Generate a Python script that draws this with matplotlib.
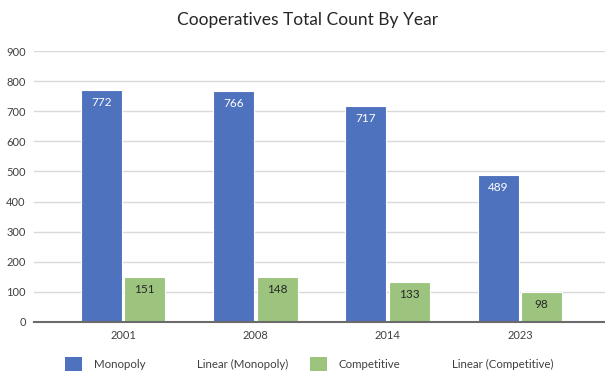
import numpy as np
import matplotlib.pyplot as plt
from matplotlib.patches import Patch
from matplotlib.lines import Line2D

plt.rcParams['font.family'] = ['Lato', 'DejaVu Sans']

years = ['2001', '2008', '2014', '2023']
monopoly = [772, 766, 717, 489]
competitive = [151, 148, 133, 98]

blue = '#4F72BE'
green = '#9CC47E'

fig = plt.figure(figsize=(6.05, 3.71), dpi=100)
ax = fig.add_axes([34 / 605, 1 - 322 / 371, 1 - 34 / 605, (322 - 51) / 371])

x = np.arange(len(years))
w = 0.31
b1 = ax.bar(x - 0.165, monopoly, w, color=blue, edgecolor='white', linewidth=0.8, zorder=3)
b2 = ax.bar(x + 0.165, competitive, w, color=green, edgecolor='white', linewidth=0.8, zorder=3)

for rect, v in zip(b1, monopoly):
    ax.annotate(str(v), (rect.get_x() + rect.get_width() / 2, v), xytext=(0, -9),
                textcoords='offset points', ha='center', va='center',
                color='white', fontsize=8.5)
for rect, v in zip(b2, competitive):
    ax.annotate(str(v), (rect.get_x() + rect.get_width() / 2, v), xytext=(0, -9),
                textcoords='offset points', ha='center', va='center',
                color='#262626', fontsize=8.5)

ax.set_xlim((34 - 123) / 132.3, (605 - 123) / 132.3)
ax.set_ylim(0, 900)
ax.set_yticks(range(0, 901, 100))
ax.set_xticks(x)
ax.set_xticklabels(years)
ax.tick_params(axis='both', length=0, labelsize=8, colors='#404040')
ax.tick_params(axis='y', pad=6)
ax.tick_params(axis='x', pad=6)
ax.grid(axis='y', color='#d9d9d9', linewidth=1, zorder=0)
for s in ['top', 'right', 'left']:
    ax.spines[s].set_visible(False)
ax.spines['bottom'].set_color('#6b6b6b')
ax.spines['bottom'].set_linewidth(1.5)
ax.spines['bottom'].set_zorder(4)

fig.text(0.509, 0.945, 'Cooperatives Total Count By Year', ha='center', va='center',
         fontsize=12.5, color='#262626')

handles = [Patch(facecolor=blue), Line2D([], [], color='none'),
           Patch(facecolor=green), Line2D([], [], color='none')]
labels = ['Monopoly', 'Linear (Monopoly)', 'Competitive', 'Linear (Competitive)']
fig.legend(handles, labels, ncol=4, loc='center', bbox_to_anchor=(0.511, 0.019),
           frameon=False, fontsize=8.3, labelcolor='#404040',
           handlelength=1.48, handleheight=1.6, handletextpad=1.04, columnspacing=1.9)

fig.savefig('out.png', dpi=100)
